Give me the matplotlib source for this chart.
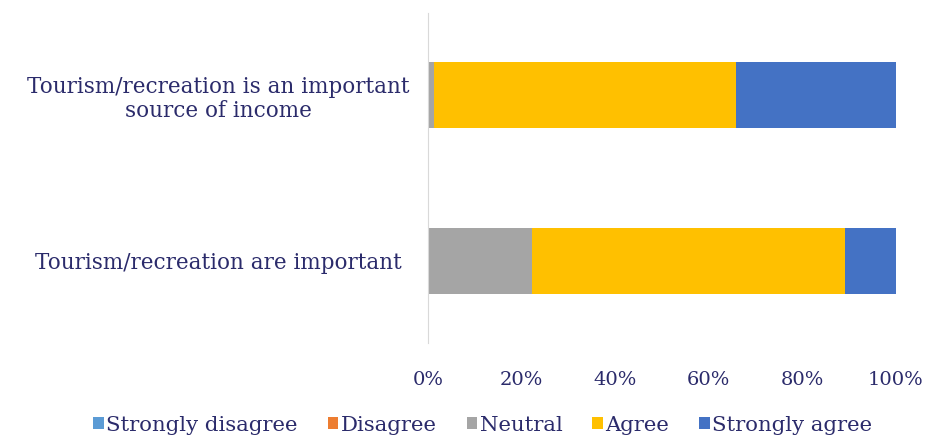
import numpy as np
import matplotlib.pyplot as plt

plt.rcParams['font.family'] = ['DejaVu Serif']

# survey responses, shares in percent
statements = [
    'Tourism/recreation is an important\nsource of income',
    'Tourism/recreation are important',
]
levels = ['Strongly disagree', 'Disagree', 'Neutral', 'Agree', 'Strongly agree']
strongly_disagree = [0.0, 0.0]
disagree = [0.0, 0.0]
neutral = [1.3, 22.2]
agree = [64.5, 67.0]
strongly_agree = [34.2, 10.8]

colors = ['#5B9BD5', '#ED7D31', '#A5A5A5', '#FFC000', '#4472C4']
text_color = '#2B2B6B'

fig = plt.figure(figsize=(9.32, 4.43), dpi=100)
ax = fig.add_axes([0.4592, 0.2257, 0.5017, 0.745])

y = np.arange(len(statements))
left = np.zeros(len(statements))
for name, vals, c in zip(levels,
                         [strongly_disagree, disagree, neutral, agree, strongly_agree],
                         colors):
    vals = np.array(vals)
    ax.barh(y, vals, left=left, height=0.4, color=c, label=name, linewidth=0)
    left += vals

ax.set_xlim(0, 100)
ax.set_ylim(1.5, -0.5)
ax.set_yticks(y)
ax.set_yticklabels(statements, fontsize=15.5, color=text_color, ha='center',
                   linespacing=1.1)
ax.tick_params(axis='y', length=0, pad=151)
ax.set_xticks(np.arange(0, 101, 20))
ax.set_xticklabels([f'{v}%' for v in range(0, 101, 20)], fontsize=14, color=text_color)
ax.tick_params(axis='x', length=0, pad=20)

for s in ['top', 'right', 'bottom']:
    ax.spines[s].set_visible(False)
ax.spines['left'].set_color('#D9D9D9')
ax.spines['left'].set_linewidth(0.8)

leg = fig.legend(loc='center', bbox_to_anchor=(0.518, 0.04), ncol=5, frameon=False,
                 fontsize=15.3, handlelength=0.5, handleheight=0.5, handletextpad=0.12,
                 columnspacing=1.4)
for t in leg.get_texts():
    t.set_color(text_color)

fig.savefig('out.png', dpi=100)
